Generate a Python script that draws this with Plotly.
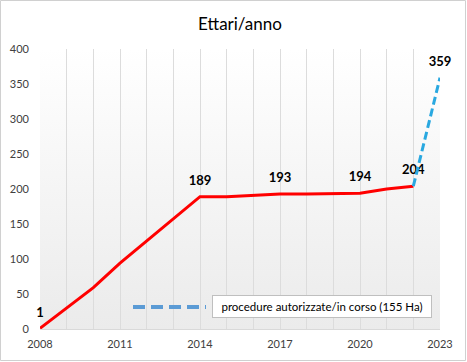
import base64
import plotly.graph_objects as go

# ---- data ----
years = [2008, 2009, 2010, 2011, 2012, 2013, 2014, 2015, 2016, 2017, 2018, 2019, 2020, 2021, 2022]
hectares = [1, 30, 59, 94, 126, 157, 189, 189, 191, 193, 193, 194, 194, 200, 204]
labels = ["1", "", "", "", "", "", "189", "", "", "193", "", "", "194", "", "204"]

proj_years = [2022, 2023]
proj_values = [204, 359]
proj_labels = ["", "359"]

title = "Ettari/anno"
legend_text = "procedure autorizzate/in corso (155 Ha)"
x_ticks = [2008, 2011, 2014, 2017, 2020, 2023]
y_ticks = [0, 50, 100, 150, 200, 250, 300, 350, 400]

W, H = 467, 362
ML, MR, MT, MB = 40, 27, 49, 33
PW, PH = W - ML - MR, H - MT - MB

FONT = "Lato, 'Open Sans', sans-serif"
LBL = dict(family=FONT, size=13, color="#000000", weight="bold")

fig = go.Figure()
fig.add_trace(go.Scatter(
    x=years, y=hectares, mode="lines+markers+text", text=labels,
    textposition="top center", textfont=LBL,
    marker=dict(size=12, opacity=0),
    line=dict(color="#ff0000", width=3), hoverinfo="skip", showlegend=False,
    cliponaxis=False,
))
fig.add_trace(go.Scatter(
    x=proj_years, y=proj_values, mode="lines+markers+text", text=proj_labels,
    textposition="top center", textfont=LBL,
    marker=dict(size=12, opacity=0),
    line=dict(color="#29a8e0", width=3, dash="8px,4px"), hoverinfo="skip", showlegend=False,
    cliponaxis=False,
))

svg = ('<svg xmlns="http://www.w3.org/2000/svg" width="100" height="100" preserveAspectRatio="none">'
       '<defs><linearGradient id="g" x1="0" y1="0" x2="0" y2="1">'
       '<stop offset="0" stop-color="#ffffff"/><stop offset="1" stop-color="#ebebeb"/>'
       '</linearGradient></defs><rect width="100" height="100" fill="url(#g)"/></svg>')
src = "data:image/svg+xml;base64," + base64.b64encode(svg.encode()).decode()
fig.add_layout_image(dict(source=src, xref="paper", yref="paper", x=0, y=1,
                          sizex=1, sizey=1, sizing="stretch", layer="below",
                          xanchor="left", yanchor="top"))

# outer border
fig.add_shape(type="rect", xref="paper", yref="paper",
              x0=-(ML - 0.5) / PW, x1=1 + (MR - 1.5) / PW,
              y0=-(MB - 1.5) / PH, y1=1 + (MT - 0.5) / PH,
              line=dict(color="#d0d0d0", width=1), layer="below")

# legend-like key
fig.add_shape(type="line", xref="paper", yref="paper",
              x0=(133 - ML) / PW, x1=(206 - ML) / PW,
              y0=(H - MB - 307) / PH, y1=(H - MB - 307) / PH,
              line=dict(color="#5b9bd5", width=4, dash="12px,6px"))
fig.add_annotation(xref="paper", yref="paper", x=(322 - ML) / PW, y=(H - MB - 306.5) / PH,
                   text=legend_text, showarrow=False,
                   font=dict(family=FONT, size=11.5, color="#000000"),
                   bgcolor="#ffffff", bordercolor="#bfbfbf", borderwidth=1,
                   borderpad=4, xanchor="center", yanchor="middle", width=210)

fig.update_layout(
    width=W, height=H,
    margin=dict(l=ML, r=MR, t=MT, b=MB, autoexpand=False),
    paper_bgcolor="#ffffff", plot_bgcolor="rgba(0,0,0,0)",
    title=dict(text=title, x=0.5, xref="paper", y=1 - 24 / H, yref="container",
               xanchor="center", yanchor="middle",
               font=dict(family=FONT, size=17, color="#000000")),
    xaxis=dict(range=[2008, 2023], tickmode="array", tickvals=x_ticks,
               automargin=False,
               showgrid=True, gridcolor="#dcdcdc", gridwidth=1,
               minor=dict(dtick=1, tick0=2008, showgrid=True, gridcolor="#dcdcdc", gridwidth=1),
               showline=True, linecolor="#d9d9d9", zeroline=False, ticks="",
               ticklabelstandoff=5,
               tickfont=dict(family=FONT, size=11, color="#404040")),
    yaxis=dict(range=[0, 400], tickmode="array", tickvals=y_ticks,
               automargin=False,
               showgrid=False, zeroline=False, showline=False, ticks="",
               ticklabelstandoff=10,
               tickfont=dict(family=FONT, size=11, color="#404040")),
)

fig.write_html("out.html", config={"displayModeBar": False},
               post_script="document.body.style.margin='0';document.body.style.overflow='hidden';")
